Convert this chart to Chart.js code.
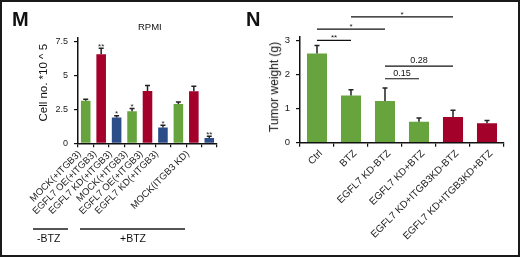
<!DOCTYPE html>
<html>
<head>
<meta charset="utf-8">
<script src="https://cdn.jsdelivr.net/npm/chart.js@4/dist/chart.umd.min.js"></script>
<style>
  html, body { margin: 0; padding: 0; background: #fff; }
  body { width: 520px; height: 257px; position: relative; overflow: hidden; font-family: "Liberation Sans", Arial, sans-serif; }
  .frame { position: absolute; left: 0; top: 0; width: 520px; height: 257px; box-sizing: border-box; border: 2px solid #1a1a1a; pointer-events: none; }
  canvas { position: absolute; }
  .txt { position: absolute; white-space: nowrap; color: #111; line-height: 1; }
  .panel { font-weight: bold; font-size: 20px; }
  .ytitle { font-family: "Liberation Sans Narrow", "Arial Narrow", sans-serif; transform-origin: center center; }
  .grp { position: absolute; height: 2px; background: #555; }
</style>
</head>
<body>
<canvas id="left"></canvas>
<canvas id="right"></canvas>

<div class="txt panel" style="left:12px; top:9px;">M</div>
<div class="txt panel" style="left:246px; top:9px;">N</div>
<div class="txt" style="left:138px; top:22px; font-size:9.5px;">RPMI</div>

<div class="txt ytitle" id="ytl" style="font-size:11.5px;">Cell no. *10 ^ 5</div>
<div class="txt ytitle" id="ytr" style="font-size:12px;">Tumor weight (g)</div>

<div class="grp" style="left:33px; top:228px; width:35px;"></div>
<div class="grp" style="left:80px; top:228px; width:105px;"></div>
<div class="txt" style="left:37px; top:233px; font-size:10.5px;">-BTZ</div>
<div class="txt" style="left:120px; top:233px; font-size:10.5px;">+BTZ</div>

<div class="frame"></div>

<script>
// ---------- Data ----------
const leftCategories = ['MOCK(+ITGB3)', 'EGFL7 OE(+ITGB3)', 'EGFL7 KD(+ITGB3)', 'MOCK(+ITGB3)', 'EGFL7 OE(+ITGB3)', 'EGFL7 KD(+ITGB3)', '', 'MOCK(ITGB3 KD)', ''];
const leftValues = [3.15, 6.58, 1.91, 2.37, 3.86, 1.17, 2.90, 3.84, 0.39];
const leftErrors = [0.10, 0.43, 0.12, 0.20, 0.40, 0.17, 0.14, 0.37, 0.13];
const leftStars  = ['', '**', '*', '*', '', '*', '', '', '**'];
const leftTicks  = [0, 2.5, 5, 7.5];

const rightCategories = ['Ctrl', 'BTZ', 'EGFL7 KD-BTZ', 'EGFL7 KD+BTZ', 'EGFL7 KD+ITGB3KD-BTZ', 'EGFL7 KD+ITGB3KD+BTZ'];
const rightValues = [2.61, 1.38, 1.22, 0.61, 0.75, 0.57];
const rightErrors = [0.23, 0.17, 0.38, 0.11, 0.20, 0.08];
const rightTicks  = [0, 1, 2, 3];

// significance brackets (right panel): from bar, to bar, height (data units), label
const sigFrom   = [0, 0, 1, 2, 2];
const sigTo     = [1, 2, 4, 3, 4];
const sigLevel  = [2.99, 3.32, 3.68, 1.87, 2.24];
const sigLabel  = ['**', '*', '*', '0.15', '0.28'];

// ---------- Styles ----------
const GREEN = '#68a43e', RED = '#a3002a', BLUE = '#2d4d88';
const leftColors = [GREEN, RED, BLUE, GREEN, RED, BLUE, GREEN, RED, BLUE];
const rightColors = [GREEN, GREEN, GREEN, GREEN, RED, RED];
const FONT = '"Liberation Sans", Arial, sans-serif';

function placeRot(id, cx, cy) {
  const el = document.getElementById(id);
  const w = el.offsetWidth, h = el.offsetHeight;
  el.style.left = (cx - w / 2) + 'px';
  el.style.top = (cy - h / 2) + 'px';
  el.style.transform = 'rotate(-90deg)';
}
placeRot('ytl', 44, 83);
placeRot('ytr', 274, 87);

const errorBarPlugin = {
  id: 'errbars',
  afterDatasetsDraw(chart, args, opts) {
    const ctx = chart.ctx;
    const meta = chart.getDatasetMeta(0);
    const y = chart.scales.y;
    const vals = chart.data.datasets[0].data;
    ctx.save();
    ctx.strokeStyle = '#222';
    ctx.lineWidth = 1.5;
    meta.data.forEach((bar, i) => {
      const top = y.getPixelForValue(vals[i]);
      const cap = y.getPixelForValue(vals[i] + opts.errors[i]);
      ctx.beginPath();
      ctx.moveTo(bar.x, top);
      ctx.lineTo(bar.x, cap);
      ctx.moveTo(bar.x - opts.cap, cap);
      ctx.lineTo(bar.x + opts.cap, cap);
      ctx.stroke();
      if (opts.stars && opts.stars[i]) {
        ctx.fillStyle = '#222';
        ctx.font = '8px ' + FONT;
        ctx.textAlign = 'center';
        ctx.textBaseline = 'alphabetic';
        ctx.fillText(opts.stars[i], bar.x, cap + 0.5);
      }
    });
    ctx.restore();
  }
};

const sigPlugin = {
  id: 'sig',
  afterDraw(chart, args, opts) {
    if (!opts.from) return;
    const ctx = chart.ctx;
    const meta = chart.getDatasetMeta(0);
    const y = chart.scales.y;
    ctx.save();
    ctx.strokeStyle = '#111';
    ctx.fillStyle = '#111';
    ctx.lineWidth = 1.2;
    opts.from.forEach((f, k) => {
      const x1 = meta.data[f].x, x2 = meta.data[opts.to[k]].x;
      const py = y.getPixelForValue(opts.level[k]);
      ctx.beginPath();
      ctx.moveTo(x1, py);
      ctx.lineTo(x2, py);
      ctx.stroke();
      const lab = opts.label[k];
      ctx.textAlign = 'center';
      ctx.textBaseline = 'alphabetic';
      if (lab.indexOf('*') >= 0) {
        ctx.font = '8px ' + FONT;
        ctx.fillText(lab, (x1 + x2) / 2, py);
      } else {
        ctx.font = '9px ' + FONT;
        ctx.fillText(lab, (x1 + x2) / 2, py - 3);
      }
    });
    ctx.restore();
  }
};

function makeChart(id, cfg) {
  const c = document.getElementById(id);
  c.style.left = cfg.left + 'px';
  c.style.top = '0px';
  c.width = cfg.width; c.height = cfg.height;
  c.style.width = cfg.width + 'px'; c.style.height = cfg.height + 'px';
  return new Chart(c, {
    type: 'bar',
    data: {
      labels: cfg.labels,
      datasets: [{
        data: cfg.values,
        backgroundColor: cfg.colors,
        borderWidth: 0,
        barPercentage: cfg.barPct,
        categoryPercentage: 1
      }]
    },
    options: {
      responsive: false,
      animation: false,
      devicePixelRatio: 1,
      layout: { padding: { top: cfg.padTop, right: cfg.padRight, left: 0, bottom: 0 } },
      plugins: {
        legend: { display: false },
        tooltip: { enabled: false },
        title: { display: false },
        errbars: { errors: cfg.errors, cap: 2.5, stars: cfg.stars },
        sig: cfg.sig || {}
      },
      scales: {
        x: {
          type: 'category',
          offset: true,
          grid: { display: true, drawOnChartArea: false, drawTicks: true, tickLength: 4, offset: true, color: '#111', lineWidth: 1.2 },
          border: { display: true, color: '#111', width: 1.5 },
          ticks: {
            autoSkip: false, minRotation: 45, maxRotation: 45,
            color: '#222', font: { family: FONT, size: cfg.xFont },
            padding: 1, labelOffset: cfg.labelOffset
          },
          afterFit(s) { s.height = cfg.xHeight; }
        },
        y: {
          min: 0, max: cfg.yMax,
          grid: { display: true, drawOnChartArea: false, drawTicks: true, tickLength: 4, color: '#111', lineWidth: 1.2 },
          border: { display: true, color: '#111', width: 1.5 },
          ticks: { color: '#222', font: { family: FONT, size: cfg.yFont }, padding: 6, callback: v => String(v) },
          afterBuildTicks(s) { s.ticks = cfg.yTicks.map(v => ({ value: v })); },
          afterFit(s) { s.width = cfg.yWidth; }
        }
      }
    },
    plugins: [errorBarPlugin, sigPlugin]
  });
}

makeChart('left', {
  left: 0, width: 250, height: 225,
  labels: leftCategories, values: leftValues, errors: leftErrors, stars: leftStars,
  colors: leftColors, barPct: 0.62,
  padTop: 37.5, padRight: 33, yWidth: 78, xHeight: 225 - 143.3,
  yMax: 7.81, yTicks: leftTicks, xFont: 9.5, yFont: 9, labelOffset: -6
});

makeChart('right', {
  left: 250, width: 270, height: 255,
  labels: rightCategories, values: rightValues, errors: rightErrors, stars: null,
  colors: rightColors, barPct: 0.59,
  padTop: 36.7, padRight: 16, yWidth: 50, xHeight: 255 - 142.7,
  yMax: 3.1, yTicks: rightTicks, xFont: 10, yFont: 9.5, labelOffset: 4,
  sig: { from: sigFrom, to: sigTo, level: sigLevel, label: sigLabel }
});
</script>
</body>
</html>
